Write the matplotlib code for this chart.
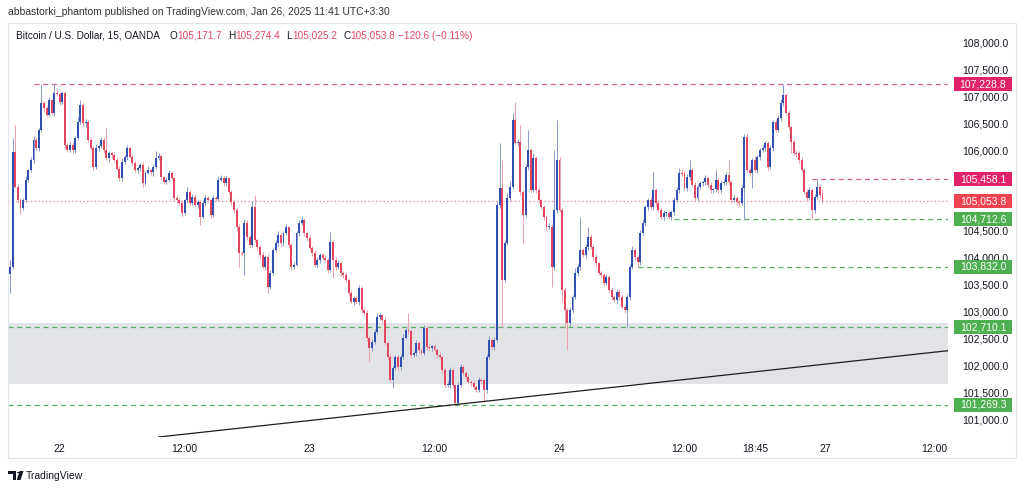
import numpy as np
import matplotlib
matplotlib.use('Agg')
import matplotlib.pyplot as plt
from matplotlib.patches import Rectangle, Polygon
from matplotlib.transforms import blended_transform_factory

plt.rcParams['font.family'] = ['Liberation Sans', 'DejaVu Sans']

# 15 min BTCUSD bars, open = previous close
first_open = 103700
closes = [
    103830, 105970, 105320, 105070, 104920, 105070, 105450, 105630, 105820, 106190, 106040, 106380, 106870, 106780, 106660, 106930,
    106690, 107060, 107040, 106900, 107060, 106100, 106000, 106100, 106000, 106220, 106530, 106840, 106500, 106530, 106190, 106040,
    105690, 106040, 106070, 106190, 106000, 105850, 105940, 105910, 105820, 105660, 105480, 105790, 105880, 106040, 105880, 105760,
    105630, 105670, 105720, 105390, 105580, 105630, 105590, 105690, 105860, 105890, 105500, 105410, 105450, 105580, 105480, 105110,
    105070, 105020, 104830, 105070, 105220, 105020, 105130, 104980, 105040, 104760, 105020, 105110, 105070, 104800, 105110, 105100,
    105450, 105480, 105390, 105480, 105220, 105040, 104890, 104570, 104090, 104080, 104650, 104390, 104240, 104940, 104330, 104200,
    104050, 103830, 104010, 103460, 103720, 104140, 104270, 104420, 104270, 104460, 104570, 104240, 103830, 103870, 104460, 104650,
    104700, 104460, 104370, 104180, 104090, 103870, 103960, 104050, 104000, 103960, 103770, 104290, 103960, 103830, 103900, 103720,
    103680, 103590, 103340, 103180, 103250, 103180, 103440, 103030, 102970, 102510, 102320, 102430, 102620, 102900, 102930, 102840,
    102410, 102150, 101730, 101950, 102150, 101970, 102150, 102510, 102660, 102640, 102190, 102230, 102410, 102280, 102230, 102690,
    102340, 102330, 102350, 102280, 102190, 102150, 101910, 101630, 101640, 101910, 101630, 101300, 101630, 101970, 101860, 101780,
    101690, 101670, 101600, 101540, 101730, 101720, 101540, 102150, 102470, 102340, 102470, 104980, 105300, 103590, 104270, 105110,
    105320, 106560, 106130, 106150, 105220, 104800, 105690, 106000, 105260, 105860, 105260, 105070, 104940, 104760, 104570, 104580,
    103830, 104890, 105820, 104890, 103400, 103030, 102790, 103030, 103270, 103720, 103830, 104140, 104050, 104200, 104390, 104200,
    104010, 103900, 103720, 103680, 103530, 103640, 103400, 103270, 103210, 103360, 103270, 103080, 103030, 103270, 103830, 104140,
    104010, 103920, 104460, 104650, 104940, 105070, 104940, 105260, 105020, 104890, 104760, 104830, 104830, 104760, 104850, 105070,
    105260, 105580, 105570, 105300, 105500, 105630, 105350, 105110, 105320, 105390, 105400, 105480, 105350, 105260, 105270, 105450,
    105260, 105390, 105410, 105540, 105410, 105070, 105110, 105040, 105020, 105300, 106250, 105630, 105580, 105820, 105630, 105870,
    106000, 106040, 106130, 105690, 106040, 106520, 106380, 106600, 106880, 107030, 106690, 106430, 106150, 105950, 105940, 105820,
    105630, 105220, 105110, 105260, 104890, 105130, 105320, 105171.7, 105053.8,
]
# wick length above / below the body
wick_up = [
    130, 260, 500, 60, 40, 50, 70, 30, 60, 80, 50, 40, 360, 50, 40, 60,
    30, 170, 60, 40, 50, 40, 30, 60, 50, 40, 80, 90, 40, 60, 30, 50,
    40, 70, 30, 50, 60, 410, 40, 30, 50, 60, 40, 70, 30, 50, 40, 60,
    40, 30, 50, 60, 40, 70, 30, 50, 120, 60, 40, 30, 60, 50, 40, 30,
    50, 40, 60, 30, 90, 40, 50, 60, 30, 40, 50, 60, 40, 30, 50, 40,
    70, 60, 40, 50, 30, 40, 60, 30, 50, 40, 70, 50, 40, 120, 230, 40,
    30, 50, 40, 60, 50, 40, 60, 80, 50, 40, 60, 30, 40, 50, 40, 60,
    70, 40, 30, 50, 40, 60, 50, 40, 30, 50, 40, 190, 40, 50, 60, 30,
    40, 50, 30, 60, 40, 50, 60, 40, 30, 50, 40, 60, 50, 70, 40, 30,
    50, 40, 60, 30, 50, 40, 60, 70, 50, 310, 40, 30, 60, 40, 50, 60,
    40, 50, 30, 60, 40, 50, 30, 40, 60, 50, 40, 30, 50, 60, 40, 30,
    50, 40, 60, 30, 50, 40, 30, 60, 70, 40, 50, 80, 830, 520, 60, 90,
    100, 130, 340, 60, 320, 40, 60, 380, 50, 90, 40, 60, 30, 50, 40, 60,
    40, 1110, 740, 60, 40, 50, 30, 60, 40, 90, 50, 620, 40, 60, 180, 50,
    40, 60, 30, 50, 40, 60, 30, 50, 40, 60, 50, 30, 40, 60, 50, 70,
    40, 50, 60, 70, 50, 40, 60, 330, 40, 50, 30, 60, 40, 50, 40, 60,
    50, 90, 70, 40, 60, 190, 40, 50, 60, 40, 50, 60, 40, 50, 30, 180,
    40, 60, 50, 60, 280, 40, 50, 30, 40, 60, 50, 70, 60, 40, 80, 50,
    40, 60, 50, 40, 60, 50, 70, 60, 80, 199, 40, 50, 30, 60, 50, 40,
    50, 40, 60, 50, 40, 60, 138, 50, 103,
]
wick_dn = [
    360, 40, 30, 60, 100, 40, 30, 50, 40, 60, 30, 50, 40, 60, 50, 30,
    40, 50, 30, 60, 40, 50, 30, 40, 60, 50, 30, 40, 50, 60, 40, 30,
    50, 40, 60, 30, 50, 40, 60, 50, 40, 30, 60, 50, 40, 60, 30, 50,
    40, 60, 50, 70, 40, 30, 50, 60, 40, 50, 60, 40, 30, 50, 40, 60,
    50, 40, 80, 30, 50, 60, 40, 30, 60, 150, 40, 50, 30, 60, 40, 50,
    40, 30, 60, 50, 40, 60, 50, 70, 260, 40, 400, 60, 50, 40, 30, 60,
    50, 40, 60, 120, 40, 50, 30, 60, 50, 50, 40, 60, 50, 40, 30, 60,
    40, 50, 60, 30, 50, 40, 60, 50, 40, 30, 60, 40, 340, 50, 40, 60,
    50, 40, 60, 30, 50, 40, 60, 50, 40, 60, 260, 50, 40, 30, 60, 50,
    40, 60, 50, 150, 40, 60, 50, 40, 30, 50, 60, 40, 50, 60, 40, 30,
    50, 40, 60, 30, 50, 40, 60, 50, 40, 60, 50, 31, 60, 40, 50, 30,
    40, 60, 50, 30, 40, 60, 220, 50, 40, 60, 50, 40, 60, 880, 50, 40,
    60, 50, 40, 60, 50, 530, 40, 60, 50, 40, 60, 50, 40, 60, 50, 40,
    370, 50, 60, 40, 220, 340, 510, 60, 50, 40, 60, 50, 40, 60, 50, 40,
    60, 50, 40, 60, 50, 40, 60, 50, 40, 60, 50, 40, 60, 320, 50, 40,
    60, 88, 50, 40, 60, 50, 40, 60, 50, 40, 40, 60, 50, 47, 60, 50,
    40, 60, 50, 40, 60, 50, 40, 60, 50, 40, 60, 50, 40, 60, 50, 40,
    60, 50, 40, 60, 50, 50, 40, 60, 50, 40, 580, 60, 50, 280, 40, 60,
    50, 40, 60, 50, 40, 60, 50, 40, 60, 50, 40, 60, 200, 40, 60, 50,
    40, 60, 50, 40, 177, 50, 40, 60, 29,
]

tick_bars = [19, 67, 115, 163, 211, 259, 286, 313, 355]
tick_labels = ['22', '12:00', '23', '12:00', '24', '12:00', '18:45', '27', '12:00']
# 105,000 and 105,500 sit fully behind the price badges, so they are not shown
price_ticks = [101000, 101500, 102000, 102500, 103000, 103500, 104000, 104500,
               106000, 106500, 107000, 107500, 108000]

# horizontal levels: price, first bar, colour of badge
level_price = [107228.8, 105458.1, 105053.8, 104712.6, 103832.0, 102710.1, 101269.3]
level_from = [9, 308, -1, 255, 241, -1, -1]
level_col = ['#e0226a', '#e0226a', '#f0434f', '#4caf50', '#4caf50', '#4caf50', '#4caf50']

zone_lo, zone_hi = 101646, 102792
trend_bar = [171, 359]
trend_price = [101269.3, 102265.0]

W, H = 1024, 490
fig = plt.figure(figsize=(W / 100, H / 100), dpi=100)
fig.patch.set_facecolor('white')
ax = fig.add_axes([8 / W, (H - 437) / H, 940 / W, 413 / H])
for s in ax.spines.values():
    s.set_visible(False)

c = np.array(closes, dtype=float)
o = np.r_[first_open, c[:-1]]
hi = np.maximum(o, c) + np.array(wick_up)
lo = np.minimum(o, c) - np.array(wick_dn)
x = np.arange(len(c))
up = c >= o

ax.axhspan(zone_lo, zone_hi, color='#e2e3e6', lw=0, zorder=0)

ax.vlines(x[up], lo[up], hi[up], color='#8a9ac8', lw=0.7, zorder=2)
ax.vlines(x[~up], lo[~up], hi[~up], color='#eca0ac', lw=0.7, zorder=2)
body = np.maximum(np.abs(c - o), 18)
ax.bar(x[up], body[up], bottom=o[up], width=0.75, color='#2f4fb3', lw=0, zorder=3)
ax.bar(x[~up], -body[~up], bottom=o[~up], width=0.75, color='#e2455d', lw=0, zorder=3)

xmin, xmax = -0.8, 360.2
for p, start, col in zip(level_price, level_from, level_col):
    x0 = xmin if start < 0 else start
    if p == 105053.8:
        ax.hlines(p, x0, xmax, color='#ef7f8c', lw=0.9, linestyles=(0, (1, 2)), zorder=1)
    else:
        lc = '#de5f84' if col != '#4caf50' else '#58ad60'
        ax.hlines(p, x0, xmax, color=lc, lw=0.9, linestyles=(0, (4, 3)), zorder=1)

ax.axline((trend_bar[0], trend_price[0]), (trend_bar[1], trend_price[1]), color='#1e1e1e', lw=0.9, zorder=4)

ax.set_xlim(xmin, xmax)
ax.set_ylim(100666, 108348)
ax.yaxis.tick_right()
ax.set_yticks(price_ticks, [f'{v:,.1f}' for v in price_ticks])
ax.tick_params(axis='y', length=0, pad=10, labelsize=7.5, labelcolor='#131722')
ax.set_xticks(tick_bars, tick_labels)
ax.tick_params(axis='x', length=0, pad=5, labelsize=7.5, labelcolor='#131722')

# price badges on the scale
tr = blended_transform_factory(fig.transFigure, ax.transData)
for p, col in zip(level_price, level_col):
    fig.add_artist(Rectangle((954 / W, p - 130), 58 / W, 260, transform=tr,
                             fc=col, ec='none', zorder=5))
    fig.text(983 / W, p, f'{p:,.1f}', transform=tr, ha='center', va='center',
             color='white', fontsize=7.5, zorder=6)

# frame
fig.add_artist(Rectangle((8 / W, (H - 458) / H), 1008 / W, 435 / H, transform=fig.transFigure,
                         fill=False, ec='#e0e3eb', lw=0.8))

fig.text(8 / W, 1 - 12 / H, 'abbastorki_phantom published on TradingView.com, Jan 26, 2025 11:41 UTC+3:30',
         fontsize=7.5, color='#333333', va='center')

red = '#e5475f'
legend_parts = [(16, 'Bitcoin / U.S. Dollar, 15, OANDA', '#131722'),
                (170, 'O', '#131722'), (177, '105,171.7', red),
                (228, 'H', '#131722'), (235, '105,274.4', red),
                (286, 'L', '#131722'), (292, '105,025.2', red),
                (343, 'C', '#131722'), (350, '105,053.8', red),
                (398, '\u2212120.6 (\u22120.11%)', red)]
for px, s, col in legend_parts:
    fig.text(px / W, 1 - 36 / H, s, fontsize=7.2, color=col, va='center')

# TradingView mark
logo_t = [(8, 471), (16, 471), (16, 480), (12.5, 480), (12.5, 474), (8, 474)]
logo_v = [(19.5, 471), (23.5, 471), (20.5, 480), (16.8, 480)]
for pts in (logo_t, logo_v):
    fig.add_artist(Polygon([(px / W, 1 - py / H) for px, py in pts], closed=True,
                           transform=fig.transFigure, fc='#131722', ec='none'))
fig.add_artist(plt.Circle((18.2 / W, 1 - 472.5 / H), 1.3 / W, transform=fig.transFigure,
                          fc='#131722', ec='none'))
fig.text(26 / W, 1 - 476 / H, 'TradingView', fontsize=7.5, color='#131722', va='center')

fig.savefig('out.png', dpi=100)
